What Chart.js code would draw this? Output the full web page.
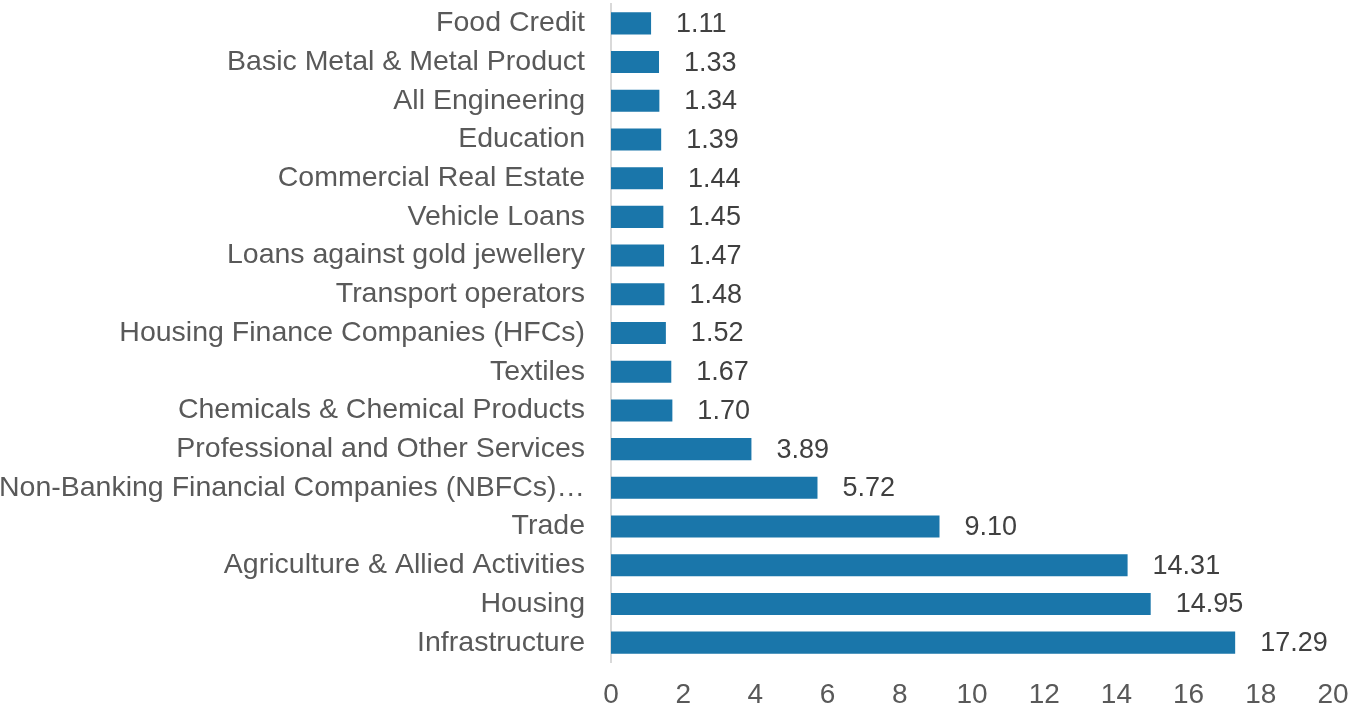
<!DOCTYPE html>
<html>
<head>
<meta charset="utf-8">
<script src="https://cdn.jsdelivr.net/npm/chart.js@4.4.0/dist/chart.umd.min.js"></script>
<style>
  body { margin: 0; background: #fff; }
</style>
</head>
<body>
<canvas id="graf_sect" width="1353" height="713"></canvas>
<script>
// data ------------------------------------------
const sectors = ['Food Credit', 'Basic Metal & Metal Product', 'All Engineering', 'Education',
  'Commercial Real Estate', 'Vehicle Loans', 'Loans against gold jewellery', 'Transport operators',
  'Housing Finance Companies (HFCs)', 'Textiles', 'Chemicals & Chemical Products',
  'Professional and Other Services', 'Non-Banking Financial Companies (NBFCs)\u2026', 'Trade',
  'Agriculture & Allied Activities', 'Housing', 'Infrastructure'];
const shares = [1.11, 1.33, 1.34, 1.39, 1.44, 1.45, 1.47, 1.48, 1.52, 1.67, 1.70, 3.89, 5.72, 9.10, 14.31, 14.95, 17.29];
const xTicks = [0, 2, 4, 6, 8, 10, 12, 14, 16, 18, 20];

const fontFam = '"Liberation Sans", Arial, sans-serif';

// value labels at the bar ends
const valueLabels = {
  id: 'valueLabels',
  afterDatasetsDraw(chart) {
    const ctx = chart.ctx;
    const meta = chart.getDatasetMeta(0);
    ctx.save();
    ctx.font = '27px ' + fontFam;
    ctx.fillStyle = '#404040';
    ctx.textAlign = 'left';
    ctx.textBaseline = 'middle';
    meta.data.forEach((bar, i) => {
      ctx.fillText(shares[i].toFixed(2), bar.x + 25, bar.y + 1);
    });
    ctx.restore();
  }
};

new Chart(document.getElementById('graf_sect'), {
  type: 'bar',
  data: {
    labels: sectors,
    datasets: [{
      data: shares,
      backgroundColor: '#1a76aa',
      borderWidth: 0,
      barPercentage: 0.57,
      categoryPercentage: 1.0
    }]
  },
  options: {
    indexAxis: 'y',
    responsive: false,
    animation: false,
    layout: { padding: { top: 4, right: 20, bottom: 1, left: 0 } },
    plugins: {
      legend: { display: false },
      tooltip: { enabled: false }
    },
    scales: {
      x: {
        min: 0,
        max: 20,
        afterBuildTicks: (scale) => { scale.ticks = xTicks.map(v => ({ value: v })); },
        afterFit: (scale) => { scale.height = 50; scale.paddingLeft = 0; scale.paddingRight = 0; },
        grid: { display: false, drawTicks: false },
        border: { display: false },
        ticks: { color: '#595959', font: { size: 28, family: fontFam }, padding: 16, maxRotation: 0 }
      },
      y: {
        afterFit: (scale) => { scale.width = 611; scale.paddingTop = 0; scale.paddingBottom = 0; },
        grid: { display: false, drawTicks: false },
        border: { display: true, color: '#d9d9d9', width: 2 },
        ticks: { color: '#595959', font: { size: 28.5, family: fontFam }, padding: 26, autoSkip: false }
      }
    }
  },
  plugins: [valueLabels]
});
</script>
</body>
</html>
